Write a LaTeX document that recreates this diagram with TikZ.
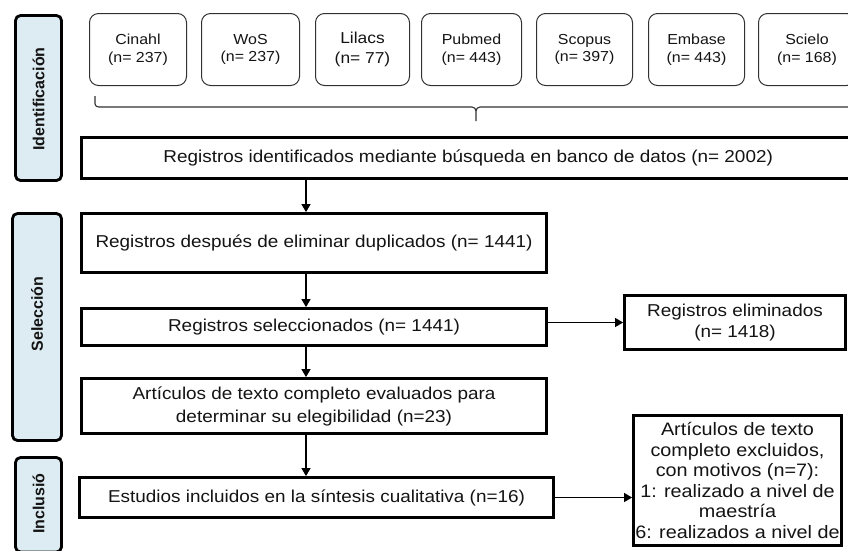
\documentclass[tikz,border=0pt]{standalone}
\usepackage{fontspec}
\setmainfont[FakeStretch=1.1]{Liberation Sans}
\newfontfamily\sidefont{Liberation Sans}
\usetikzlibrary{arrows.meta,calc}
\definecolor{sideblue}{RGB}{221,236,242}
\definecolor{txt}{RGB}{20,20,20}
\definecolor{dbline}{RGB}{50,50,50}
\begin{document}
\begin{tikzpicture}[x=1pt,y=1pt,
  sidebox/.style={draw=black, line width=2.8pt, rounded corners=5pt, fill=sideblue, inner sep=0pt},
  sidetext/.style={rotate=90, text=txt, font=\sidefont\bfseries\fontsize{16}{18}\selectfont, inner sep=0pt},
  dbbox/.style={draw=dbline, line width=1pt, rounded corners=9pt, align=center, text=txt, inner sep=0pt, minimum height=72pt,
     font=\fontsize{14.5}{17.5}\selectfont},
  mainbox/.style={draw=black, line width=2.8pt, align=center, text=txt, inner sep=0pt,
     font=\fontsize{17.2}{23}\selectfont},
  arr/.style={line width=1.1pt, draw=black, -{Triangle[length=8pt,width=9pt]}},
]
\useasboundingbox (0,0) rectangle (848,-550);
\clip (0,0) rectangle (848,-550);
\fill[white] (0,0) rectangle (848,-550);

% side labels
\node[sidebox, minimum width=46pt, minimum height=165pt] (idbox) at (38.5,-98) {};
\node[sidetext] (idtext) at (38.5,-99) {Identificación};
\node[sidebox, minimum width=49pt, minimum height=227pt] (selbox) at (37,-327) {};
\node[sidetext] (seltext) at (37,-314) {Selección};
\node[sidebox, minimum width=46pt, minimum height=94.5pt] (incbox) at (38.5,-504.75) {};
\node[sidetext] (inctext) at (38.5,-503.5) {Inclusió};

% databases
\node[dbbox, minimum width=97pt] (cinahl) at (138,-49.5) {Cinahl\\(n= 237)};
\node[dbbox, minimum width=98pt] (wos) at (250.5,-49.5) {WoS\\(n= 237)};
\node[dbbox, minimum width=94pt, font=\fontsize{15.8}{20}\selectfont] (lilacs) at (362.5,-49.5) {Lilacs\\(n= 77)};
\node[dbbox, minimum width=100pt] (pubmed) at (471.5,-49.5) {Pubmed\\(n= 443)};
\node[dbbox, minimum width=96pt] (scopus) at (584.5,-49.5) {Scopus\\(n= 397)};
\node[dbbox, minimum width=96pt] (embase) at (696.5,-49.5) {Embase\\(n= 443)};
\node[dbbox, minimum width=97pt] (scielo) at (807,-49.5) {Scielo\\(n= 168)};

% brace
\coordinate (brL) at (95,-96);
\coordinate (brM) at (476,-107);
\draw[dbline, line width=1.1pt] (brL) -- ++(0,-8) to[out=-90,in=180] ++(4,-3) -- (472,-107)
   to[out=0,in=90] (476,-111) -- (476,-121);
\draw[dbline, line width=1.1pt] (476,-111) to[out=90,in=180] (480,-107) -- (860,-107);

% main column
\node[mainbox, minimum width=773.6pt, minimum height=41.2pt] (b1) at (468.2,-158)
  {Registros identificados mediante búsqueda en banco de datos (n= 2002)};
\node[mainbox, minimum width=465pt, minimum height=59pt] (b2) at (314,-243)
  {Registros después de eliminar duplicados (n= 1441)};
\node[mainbox, minimum width=465pt, minimum height=37pt] (b3) at (314,-327)
  {Registros seleccionados (n= 1441)};
\node[mainbox, minimum width=465pt, minimum height=55pt] (b4) at (314,-406)
  {Artículos de texto completo evaluados para\\determinar su elegibilidad (n=23)};
\node[mainbox, minimum width=474pt, minimum height=40pt] (b5) at (316.5,-497.5)
  {Estudios incluidos en la síntesis cualitativa (n=16)};

% right boxes
\node[mainbox, minimum width=221pt, minimum height=54pt, font=\fontsize{17.2}{21}\selectfont] (elim) at (735,-322.5)
  {Registros eliminados\\(n= 1418)};
\node[mainbox, minimum width=208pt, minimum height=130pt, font=\fontsize{18}{20.5}\selectfont] (excl) at (737.5,-480.5)
  {Artículos de texto\\completo excluidos,\\con motivos (n=7):\\1: realizado a nivel de\\maestría\\6: realizados a nivel de};

% arrows
\coordinate (ax) at (306,0);
\draw[arr] (b1.south -| ax) -- (b2.north -| ax);
\draw[arr] (b2.south -| ax) -- (b3.north -| ax);
\draw[arr] (b3.south -| ax) -- (b4.north -| ax);
\draw[arr] (b4.south -| ax) -- (b5.north -| ax);
\draw[arr] (b3.east |- elim.west) -- (elim.west);
\draw[arr] (b5.east) -- (b5.east -| excl.west);
\end{tikzpicture}
\end{document}
